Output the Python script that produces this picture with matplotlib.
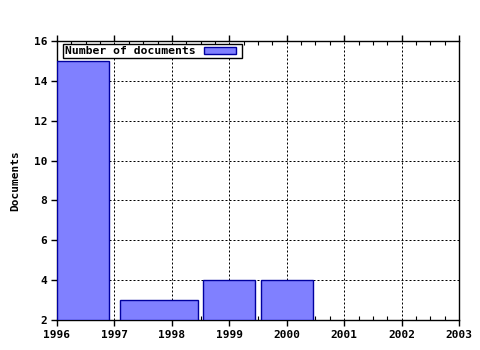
import matplotlib
matplotlib.use("Agg")
import matplotlib.pyplot as plt
from matplotlib.ticker import MultipleLocator
from matplotlib.patches import Rectangle

# Data: each bar covers a time span (in years) with a document count
period_start = [1996.0, 1997.1, 1998.545, 1999.555]
period_end = [1996.905, 1998.46, 1999.455, 2000.46]
documents = [15, 3, 4, 4]
year_ticks = [1996, 1997, 1998, 1999, 2000, 2001, 2002, 2003]
doc_ticks = [2, 4, 6, 8, 10, 12, 14, 16]
series_name = "Number of documents"

FONT = dict(family="DejaVu Sans Mono", weight="bold", size=8)
W, H = 480, 350
BAR_FACE, BAR_EDGE = "#8080ff", "#0000a0"

fig = plt.figure(figsize=(4.8, 3.5), dpi=100)
ax = fig.add_axes([57 / W, 1 - 320 / H, (459 - 57) / W, (320 - 41) / H])

base = 2
widths = [e - s for s, e in zip(period_start, period_end)]
heights = [v - base for v in documents]
ax.bar(period_start, heights, width=widths, bottom=base, align="edge",
       color=BAR_FACE, edgecolor=BAR_EDGE, linewidth=1.0, zorder=3,
       label=series_name)

ax.set_xlim(1996, 2003)
ax.set_ylim(2, 16)
ax.set_xticks(year_ticks)
ax.set_yticks(doc_ticks)
ax.xaxis.set_minor_locator(MultipleLocator(0.25))

ax.grid(True, which="major", color="black", linestyle=(0, (2, 2)), linewidth=0.72, zorder=1)

for sp in ax.spines.values():
    sp.set_color("black")
    sp.set_linewidth(1.0)

ax.tick_params(axis="x", which="major", direction="out", length=4, width=1,
               top=True, labeltop=False, pad=3)
ax.tick_params(axis="x", which="minor", direction="in", length=3, width=0.8, top=True)
ax.tick_params(axis="y", which="major", direction="out", length=4, width=1, pad=3)

for lab in ax.get_xticklabels() + ax.get_yticklabels():
    lab.set_fontfamily(FONT["family"])
    lab.set_fontweight(FONT["weight"])
    lab.set_fontsize(FONT["size"])

ax.set_ylabel("Documents", fontdict=FONT, labelpad=10)

# Legend drawn in figure pixel coordinates (JpGraph-style box)
def fx(px):
    return px / W

def fy(py):
    return 1 - py / H

fig.patches.append(Rectangle((fx(63), fy(58)), fx(242) - fx(63), fy(44) - fy(58),
                             transform=fig.transFigure, facecolor="white",
                             edgecolor="black", linewidth=1.0, zorder=10))
fig.text(fx(65), fy(51.5), series_name, ha="left", va="center",
         fontfamily=FONT["family"], fontweight="bold", fontsize=8.2, zorder=11)
fig.patches.append(Rectangle((fx(204), fy(54)), fx(236) - fx(204), fy(47) - fy(54),
                             transform=fig.transFigure, facecolor=BAR_FACE,
                             edgecolor=BAR_EDGE, linewidth=1.0, zorder=11))

fig.savefig("out.png", dpi=100)
